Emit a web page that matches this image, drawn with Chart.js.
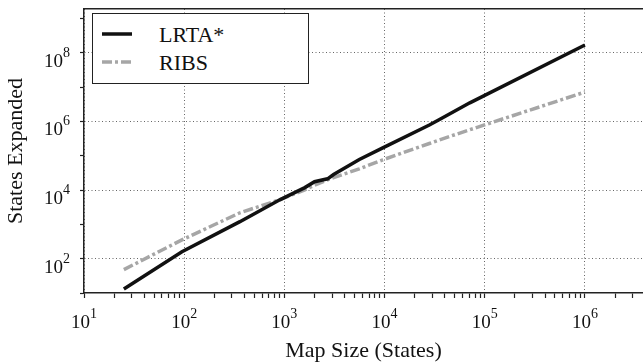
<!DOCTYPE html>
<html>
<head>
<meta charset="utf-8">
<script src="https://cdn.jsdelivr.net/npm/chart.js@4"></script>
<style>
  html, body { margin: 0; padding: 0; background: #fff; }
  #wrap { position: relative; width: 643px; height: 362px; }
  #legend {
    position: absolute; left: 92px; top: 13px; width: 217px; height: 71px;
    box-sizing: border-box; border: 1.5px solid #222; background: #fff;
    font-family: 'Liberation Serif', serif; font-size: 22px; color: #111;
  }
  #legend .row { position: absolute; left: 0; width: 100%; height: 26px; }
  #legend svg { position: absolute; left: 9px; top: 7px; }
  #legend span { position: absolute; left: 66px; top: 0; line-height: 26px; }
</style>
</head>
<body>
<div id="wrap">
  <canvas id="graph" width="643" height="362"></canvas>
  <div id="legend"></div>
</div>
<script>
'use strict';

// map sizes (states) and states expanded
const mapSizes = [25, 95, 360, 900, 1600, 2000, 2700, 3100, 5600, 9600, 28000, 35000, 71000, 1000000];
const lrtaStates = [13, 160, 1200, 5200, 11800, 17500, 21300, 28400, 78000, 170000, 790000, 1120000, 3500000, 170000000];
const ribsStates = [48, 355, 2180, 5250, 10200, 13800, 20000, 23000, 41600, 76000, 228000, 288000, 575000, 7200000];

// tick labels are 10^e
const xLabelExponents = [1, 2, 3, 4, 5, 6];
const yLabelExponents = [2, 4, 6, 8];
const yTickExponents = [1, 2, 3, 4, 5, 6, 7, 8, 9];

const serif = '"Liberation Serif", "Times New Roman", serif';

function isDecade(v) {
    const l = Math.log10(v);
    return Math.abs(l - Math.round(l)) < 1e-9;
}

function xTickValues() {
    const out = [];
    for (let e = 1; e <= 6; e++) {
        for (let m = 1; m <= 9; m++) {
            const v = m * 10 ** e;
            if (v <= 3.8e6) out.push(v);
        }
    }
    return out;
}

const tickLabels = {
    id: 'tickLabels',
    afterDraw(chart) {
        const { ctx, scales: { x, y } } = chart;
        const baseFont = '19px ' + serif;
        const expFont = '14px ' + serif;
        ctx.save();
        ctx.fillStyle = '#111';
        ctx.textBaseline = 'alphabetic';
        ctx.textAlign = 'left';

        xLabelExponents.forEach(e => {
            const px = x.getPixelForValue(10 ** e);
            ctx.font = baseFont;
            const wb = ctx.measureText('10').width;
            ctx.font = expFont;
            const we = ctx.measureText(String(e)).width;
            const left = px - (wb + we) / 2;
            ctx.font = baseFont;
            ctx.fillText('10', left, x.top + 35);
            ctx.font = expFont;
            ctx.fillText(String(e), left + wb, x.top + 25);
        });

        yLabelExponents.forEach(e => {
            const py = y.getPixelForValue(10 ** e);
            ctx.font = baseFont;
            const wb = ctx.measureText('10').width;
            ctx.font = expFont;
            const we = ctx.measureText(String(e)).width;
            const right = y.right - 14;
            ctx.font = baseFont;
            ctx.fillText('10', right - we - wb, py + 14);
            ctx.font = expFont;
            ctx.fillText(String(e), right - we, py + 4);
        });
        ctx.restore();
    }
};

const ctx = document.getElementById('graph').getContext('2d');
const chart = new Chart(ctx, {
    type: 'line',
    data: {
        datasets: [{
            label: 'LRTA*',
            data: mapSizes.map((s, i) => ({ x: s, y: lrtaStates[i] })),
            borderColor: '#111',
            borderWidth: 3.5,
            pointRadius: 0,
            tension: 0
        }, {
            label: 'RIBS',
            data: mapSizes.map((s, i) => ({ x: s, y: ribsStates[i] })),
            borderColor: '#a6a6a6',
            borderWidth: 3.5,
            borderDash: [10, 3, 3, 3],
            borderCapStyle: 'butt',
            pointRadius: 0,
            tension: 0
        }]
    },
    options: {
        responsive: false,
        animation: false,
        layout: { padding: { top: 9, right: 0, left: 0, bottom: 0 } },
        plugins: {
            legend: { display: false },
            tooltip: { enabled: false }
        },
        scales: {
            x: {
                type: 'logarithmic',
                position: 'bottom',
                min: 10,
                max: 3.8e6,
                afterBuildTicks: scale => {
                    scale.ticks = xTickValues().map(v => ({ value: v, major: isDecade(v) }));
                },
                afterFit: scale => { scale.height = 69; },
                ticks: { display: false },
                grid: {
                    color: c => (c.tick && isDecade(c.tick.value) ? 'rgba(0,0,0,0.6)' : 'rgba(0,0,0,0)'),
                    lineWidth: 1,
                    tickColor: '#222',
                    tickLength: 5,
                    tickWidth: 1.2,
                    tickBorderDash: []
                },
                border: { display: true, color: '#222', width: 1.5, dash: [1, 2.5] },
                title: {
                    display: true,
                    text: 'Map Size (States)',
                    color: '#111',
                    font: { family: serif, size: 22, lineHeight: 1 },
                    padding: { top: 0, bottom: 0 }
                }
            },
            xTop: {
                type: 'linear',
                axis: 'x',
                position: 'top',
                afterFit: scale => { scale.height = 0; },
                ticks: { display: false },
                grid: { display: false, drawTicks: false },
                border: { display: true, color: '#222', width: 1.5 }
            },
            y: {
                type: 'logarithmic',
                min: 10,
                max: 1.9e9,
                afterBuildTicks: scale => {
                    scale.ticks = yTickExponents.map(e => ({ value: 10 ** e, major: true }));
                },
                afterFit: scale => { scale.width = 84; },
                ticks: { display: false },
                grid: {
                    color: c => (c.tick && yLabelExponents.includes(Math.round(Math.log10(c.tick.value))) ? 'rgba(0,0,0,0.6)' : 'rgba(0,0,0,0)'),
                    lineWidth: 1,
                    tickColor: '#222',
                    tickLength: 4,
                    tickWidth: 1.2,
                    tickBorderDash: []
                },
                border: { display: true, color: '#222', width: 1.5, dash: [1, 2.5] },
                title: {
                    display: true,
                    text: 'States Expanded',
                    color: '#111',
                    font: { family: serif, size: 22, lineHeight: 1 },
                    padding: { top: 5, bottom: 0 }
                }
            }
        }
    },
    plugins: [tickLabels]
});

// legend box inside the plot, built from the datasets
const legendEl = document.getElementById('legend');
chart.data.datasets.forEach((ds, i) => {
    const row = document.createElement('div');
    row.className = 'row';
    row.style.top = (8 + i * 28) + 'px';
    const dash = ds.borderDash ? ds.borderDash.join(' ') : 'none';
    row.innerHTML =
        '<svg width="30" height="10"><line x1="0" y1="5" x2="30" y2="5" stroke="' + ds.borderColor +
        '" stroke-width="' + ds.borderWidth + '" stroke-dasharray="' + dash + '"/></svg>' +
        '<span>' + ds.label + '</span>';
    legendEl.appendChild(row);
});
</script>
</body>
</html>
